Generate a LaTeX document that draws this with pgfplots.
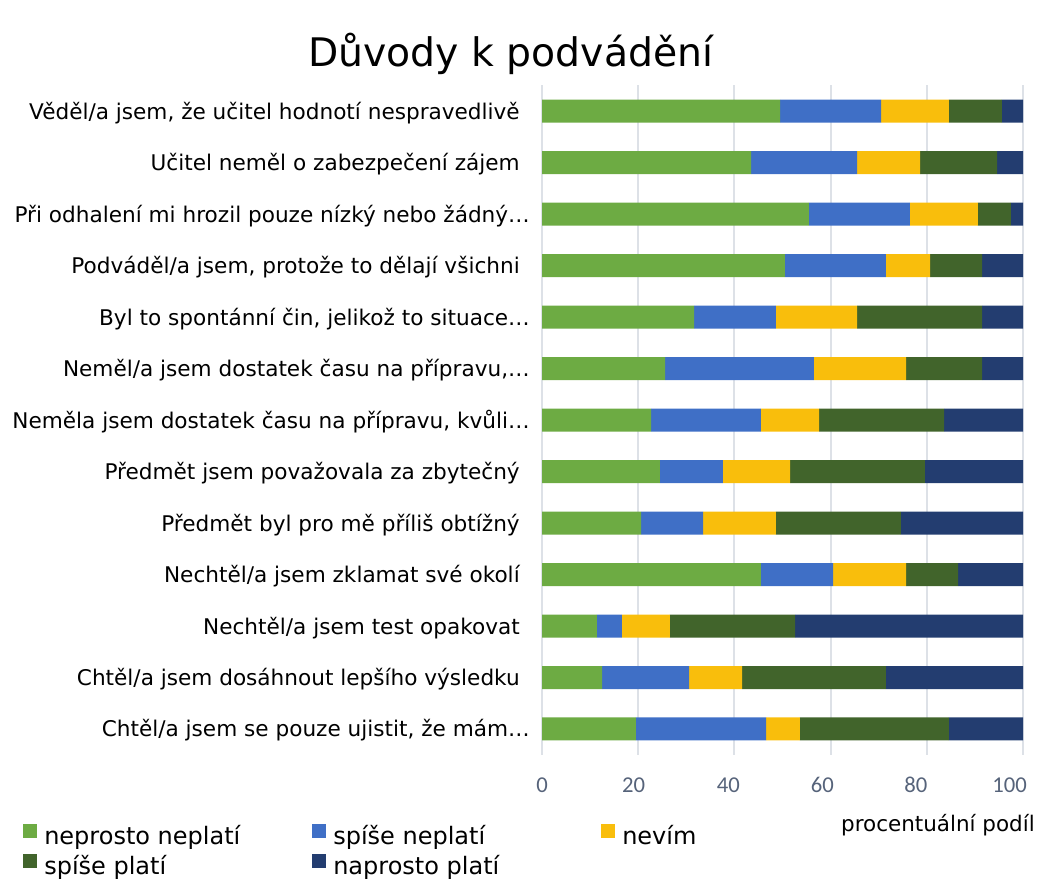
\documentclass[border=0pt]{standalone}
\usepackage{fontspec}
\setmainfont{DejaVu Sans}
\newfontfamily\carlito{Carlito}
\usepackage{pgfplots}
\pgfplotsset{compat=1.18}
\usepackage{pgfplotstable}

\definecolor{cA}{HTML}{6DAB43}
\definecolor{cB}{HTML}{3F6FC6}
\definecolor{cC}{HTML}{F9BE0C}
\definecolor{cD}{HTML}{41642B}
\definecolor{cE}{HTML}{233D70}
\definecolor{gridc}{HTML}{DDE1E7}
\definecolor{tickc}{HTML}{56637A}

% y: 12 = top row
\pgfplotstableread{
y a b c d e
12 49.5 21.0 14.1 11.0 4.4
11 43.5 22.0 13.1 16.0 5.4
10 55.5 21.0 14.1 6.9 2.5
9 50.5 21.0 9.2 10.8 8.5
8 31.6 17.0 16.9 26.0 8.5
7 25.6 30.9 19.2 15.8 8.5
6 22.7 22.8 12.1 26.0 16.4
5 24.5 13.1 14.0 28.0 20.4
4 20.6 12.9 15.1 26.0 25.4
3 45.5 15.0 15.2 10.8 13.5
2 11.4 5.2 10.0 26.0 47.4
1 12.5 18.1 11.0 29.9 28.5
0 19.5 27.1 7.0 31.0 15.4
}\datatable

\newcommand{\el}{…\kern-7.5pt}

\begin{document}
\begin{tikzpicture}
\path[use as bounding box] (0,0) rectangle (791.25pt,660.75pt);
\begin{axis}[
  at={(406.5pt,94.69pt)}, anchor=south west,
  width=360.75pt, height=502.1pt, scale only axis,
  xbar stacked, bar width=17.25pt,
  xmin=0, xmax=100, ymin=-0.5, ymax=12.5,
  xtick={0,20,...,100}, xticklabels={},
  extra x ticks={0,19.06,38.75,58.3,77.7,97.2},
  extra x tick labels={0,20,40,60,80,100},
  extra x tick style={grid=none},
  ytick={0,...,12},
  yticklabels={
    {Chtěl/a jsem se pouze ujistit, že mám\el},
    {Chtěl/a jsem dosáhnout lepšího výsledku},
    {Nechtěl/a jsem test opakovat},
    {Nechtěl/a jsem zklamat své okolí},
    {Předmět byl pro mě příliš obtížný},
    {Předmět jsem považovala za zbytečný},
    {Neměla jsem dostatek času na přípravu, kvůli\el},
    {Neměl/a jsem dostatek času na přípravu,\el},
    {Byl to spontánní čin, jelikož to situace\el},
    {Podváděl/a jsem, protože to dělají všichni},
    {Při odhalení mi hrozil pouze nízký nebo žádný\el},
    {Učitel neměl o zabezpečení zájem},
    {Věděl/a jsem, že učitel hodnotí nespravedlivě}},
  axis line style={draw=none}, tick style={draw=none},
  xmajorgrids, major grid style={color=gridc, line width=1.5pt},
  /pgf/number format/assume math mode=true,
  xticklabel style={font=\carlito\fontsize{17}{20}\selectfont, text=tickc, anchor=base, yshift=-28.5pt, inner sep=0pt},
  yticklabel style={font=\fontsize{16.2}{20}\selectfont, anchor=base east, inner sep=0pt, xshift=-16.5pt, yshift=-6pt},
  legend columns=3,
  legend style={at={(-1.079,-0.1025)}, anchor=north west, draw=none, fill=none,
    inner sep=0pt, font=\fontsize{18}{22}\selectfont,
    nodes={inner sep=0pt, text height=13pt, text depth=3pt},
    row sep=4pt,
    /tikz/every odd column/.append style={column sep=5.25pt}},
  legend image code/.code={\fill[#1] (0pt,0pt) rectangle (10.5pt,10.5pt);},
]
\addplot+[draw=none, fill=cA] table[x=a, y=y] {\datatable};
\addlegendentry{\makebox[201pt][l]{neprosto neplatí}}
\addplot+[draw=none, fill=cB] table[x=b, y=y] {\datatable};
\addlegendentry{\makebox[201pt][l]{spíše neplatí}}
\addplot+[draw=none, fill=cC] table[x=c, y=y] {\datatable};
\addlegendentry{\makebox[201pt][l]{nevím}}
\addplot+[draw=none, fill=cD] table[x=d, y=y] {\datatable};
\addlegendentry{\makebox[201pt][l]{spíše platí}}
\addplot+[draw=none, fill=cE] table[x=e, y=y] {\datatable};
\addlegendentry{\makebox[201pt][l]{naprosto platí}}
\end{axis}
\node[anchor=base, inner sep=0pt, font=\fontsize{29.5}{35}\selectfont] at (383pt,610.5pt) {Důvody k podvádění};
\node[anchor=base east, inner sep=0pt, font=\fontsize{16.1}{19}\selectfont] at (776.25pt,37.5pt) {procentuální podíl};
\end{tikzpicture}
\end{document}
